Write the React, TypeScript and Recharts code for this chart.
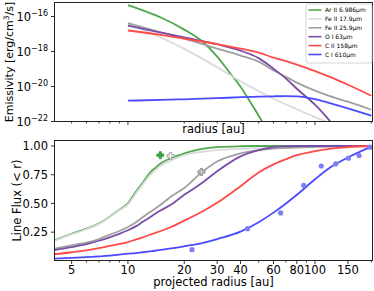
import React from 'react'
import { ComposedChart, Line, Scatter, XAxis, YAxis } from 'recharts'

const FONT = "'DejaVu Sans', sans-serif"

// emissivity panel, values are log10(erg/cm^3/s)
const arIIRadius = [10, 12, 15, 20, 25, 30, 35, 40, 45, 50, 55]
const arIIEmis = [-15.35, -15.65, -16.06, -16.75, -17.43, -18.29, -19.21, -20.01, -20.87, -21.67, -22.4]
const feII17Radius = [10, 15, 20, 30, 40, 60, 80, 100, 120, 150]
const feII17Emis = [-16.42, -17.2, -17.85, -18.9, -19.7, -20.7, -21.3, -21.75, -22.1, -22.6]
const emisRadius = [10, 15, 20, 30, 40, 50, 60, 70, 80, 100, 120, 150, 200]
const feII25Emis = [-16.38, -16.9, -17.26, -17.83, -18.23, -18.58, -19.09, -19.45, -19.78, -20.24, -20.55, -20.87, -21.33]
const oIEmis = [-16.52, -16.92, -17.2, -17.58, -17.95, -18.38, -18.98, -19.55, -20.13, -21.04, -21.96, -23.2, -25.0]
const cIIEmis = [-16.8, -17.05, -17.27, -17.58, -17.83, -18.06, -18.35, -18.55, -18.75, -19.12, -19.45, -19.9, -20.53]
const cIEmis = [-20.81, -20.77, -20.73, -20.67, -20.61, -20.58, -20.56, -20.55, -20.56, -20.72, -20.95, -21.25, -21.66]

// cumulative line flux panel
const fluxRadius = [4, 5, 6, 7, 8, 9, 10, 11, 12, 13, 14, 15, 17, 20, 25, 30, 40, 50, 60, 70, 80, 100, 120, 150, 200]
const arIIFlux = [0.175, 0.235, 0.28, 0.325, 0.385, 0.445, 0.5, 0.6, 0.68, 0.76, 0.81, 0.85, 0.895, 0.935, 0.975, 0.99, 0.998, 1, 1, 1, 1, 1, 1, 1, 1]
const feII17Flux = [0.17, 0.23, 0.275, 0.32, 0.38, 0.44, 0.49, 0.585, 0.665, 0.74, 0.79, 0.83, 0.875, 0.92, 0.95, 0.965, 0.975, 0.98, 0.983, 0.985, 0.988, 0.992, 0.995, 0.997, 1]
const feII25Flux = [0.105, 0.135, 0.158, 0.19, 0.228, 0.26, 0.295, 0.335, 0.38, 0.42, 0.455, 0.49, 0.56, 0.635, 0.775, 0.865, 0.935, 0.965, 0.978, 0.983, 0.987, 0.992, 0.995, 0.997, 1]
const oIFlux = [0.092, 0.12, 0.145, 0.175, 0.205, 0.235, 0.266, 0.3, 0.34, 0.375, 0.41, 0.44, 0.49, 0.575, 0.68, 0.78, 0.91, 0.965, 0.99, 0.997, 1, 1, 1, 1, 1]
const cIIFlux = [0.057, 0.075, 0.092, 0.11, 0.13, 0.147, 0.164, 0.185, 0.205, 0.225, 0.243, 0.26, 0.295, 0.35, 0.43, 0.505, 0.65, 0.77, 0.84, 0.885, 0.92, 0.955, 0.975, 0.99, 1]
const cIFlux = [0.019, 0.025, 0.032, 0.039, 0.046, 0.054, 0.063, 0.068, 0.075, 0.082, 0.088, 0.095, 0.108, 0.127, 0.155, 0.19, 0.255, 0.336, 0.42, 0.5, 0.575, 0.71, 0.81, 0.9, 0.995]

// observed points
const cIObsRadius = [22, 43.6, 65.5, 87, 108, 129, 151, 172, 197]
const cIObsFlux = [0.097, 0.28, 0.417, 0.658, 0.826, 0.844, 0.894, 0.917, 0.99]
const arIIObs = [{ r: 14.9, f: 0.92 }]
const feII17Obs = [{ r: 16.9, f: 0.914 }]
const feII25Obs = [{ r: 24.7, f: 0.774 }]

const LABELS = ['Ar II 6.986μm', 'Fe II 17.9μm', 'Fe II 25.9μm', 'O I 63μm', 'C II 158μm', 'C I 610μm']
const COLORS = ['#4fa84f', '#dadada', '#a0a0a0', '#7a4ea6', '#ff4a4a', '#4a4aff']

const X_DOMAIN = [4.05, 203]
const emisXTicks = [5, 6, 7, 8, 9, 10, 20, 30, 40, 50, 60, 70, 80, 90, 100, 200]
const fluxXTicks = [5, 6, 7, 8, 9, 10, 20, 30, 40, 50, 60, 70, 80, 90, 100, 150, 200]
const fluxXLabeled = [5, 10, 20, 30, 40, 60, 80, 100, 150]

const rows = (rs: number[], vs: number[], key: string) => rs.map((r, i) => ({ r, [key]: vs[i] }))

const emisSeries = [
  rows(arIIRadius, arIIEmis, 'v'),
  rows(feII17Radius, feII17Emis, 'v'),
  rows(emisRadius, feII25Emis, 'v'),
  rows(emisRadius, oIEmis, 'v'),
  rows(emisRadius, cIIEmis, 'v'),
  rows(emisRadius, cIEmis, 'v'),
]
const fluxSeries = [arIIFlux, feII17Flux, feII25Flux, oIFlux, cIIFlux, cIFlux].map(f => rows(fluxRadius, f, 'f'))

function EmisXTick({ x, y, payload }: any) {
  const major = payload.value === 10 || payload.value === 100
  return <line x1={x} x2={x} y1={y} y2={y + (major ? 3.5 : 2)} stroke="#000" strokeWidth={0.8} />
}

function FluxXTick({ x, y, payload }: any) {
  const major = fluxXLabeled.includes(payload.value)
  return (
    <g>
      <line x1={x} x2={x} y1={y} y2={y + (major ? 3.5 : 2)} stroke="#000" strokeWidth={0.8} />
      {major && <text x={x} y={y + 13} textAnchor="middle" fontSize={11.5} fill="#000" fontFamily={FONT}>{payload.value}</text>}
    </g>
  )
}

function EmisYTick({ x, y, payload }: any) {
  return (
    <text x={x} y={y + 4.5} textAnchor="end" fontSize={11.5} fill="#000" fontFamily={FONT}>
      <tspan>10</tspan>
      <tspan dy={-5.5} fontSize={8}>{'\u2212' + Math.abs(payload.value)}</tspan>
    </text>
  )
}

const plus = (fill: string, stroke: string) => (p: any) => (
  <path
    d={`M${p.cx - 1.2},${p.cy - 3.5}h2.4v2.3h2.3v2.4h-2.3v2.3h-2.4v-2.3h-2.3v-2.4h2.3z`}
    fill={fill} stroke={stroke} strokeWidth={0.8}
  />
)

export default function App() {
  return (
    <div style={{ position: 'absolute', left: 0, top: 0, width: 374, height: 291, background: '#fff', fontFamily: FONT }}>
      <div style={{ position: 'absolute', left: 0, top: 0 }}>
        <ComposedChart width={374} height={140} margin={{ top: 2.5, right: 1.5, bottom: 0, left: 0 }}>
          <XAxis dataKey="r" type="number" scale="log" domain={X_DOMAIN} allowDataOverflow ticks={emisXTicks} interval={0}
            tick={(p: any) => <EmisXTick {...p} />} tickLine={false} tickSize={0} tickMargin={0} axisLine={false} height={18.5} />
          <YAxis type="number" domain={[-22, -15.2]} allowDataOverflow ticks={[-22, -20, -18, -16]} interval={0}
            tick={(p: any) => <EmisYTick {...p} />} tickSize={3.5} tickMargin={3} axisLine={false} width={54.5}
            tickLine={{ stroke: '#000', strokeWidth: 0.8 }} />
          {emisSeries.map((d, i) => (
            <Line key={i} data={d} dataKey="v" type="monotone" stroke={COLORS[i]} strokeWidth={1.8} dot={false} isAnimationActive={false} />
          ))}
        </ComposedChart>
      </div>
      <div style={{ position: 'absolute', left: 0, top: 135 }}>
        <ComposedChart width={374} height={156} margin={{ top: 5.5, right: 1.5, bottom: 0, left: 0 }}>
          <XAxis dataKey="r" type="number" scale="log" domain={X_DOMAIN} allowDataOverflow ticks={fluxXTicks} interval={0}
            tick={(p: any) => <FluxXTick {...p} />} tickLine={false} tickSize={0} tickMargin={0} axisLine={false} height={30.5} />
          <YAxis type="number" domain={[0.003, 1.048]} allowDataOverflow ticks={[0.25, 0.5, 0.75, 1]} interval={0}
            tickFormatter={(v: number) => v.toFixed(2)} tick={{ fontSize: 11.5, fill: '#000', fontFamily: FONT }}
            tickSize={3.5} tickMargin={3} axisLine={false} width={54.5} tickLine={{ stroke: '#000', strokeWidth: 0.8 }} />
          {fluxSeries.map((d, i) => (
            <Line key={i} data={d} dataKey="f" type="monotone" stroke={COLORS[i]} strokeWidth={1.8} dot={false} isAnimationActive={false} />
          ))}
          <Scatter data={cIObsRadius.map((r, i) => ({ r, f: cIObsFlux[i] }))} dataKey="f" isAnimationActive={false}
            shape={(p: any) => <circle cx={p.cx} cy={p.cy} r={2.6} fill="#7f7ff5" />} />
          <Scatter data={arIIObs} dataKey="f" isAnimationActive={false} shape={plus('#3f9f3f', '#3f9f3f')} />
          <Scatter data={feII17Obs} dataKey="f" isAnimationActive={false} shape={plus('#f2f2f2', '#909090')} />
          <Scatter data={feII25Obs} dataKey="f" isAnimationActive={false} shape={plus('#c8c8c8', '#808080')} />
        </ComposedChart>
      </div>
      <svg width={374} height={291} style={{ position: 'absolute', left: 0, top: 0, pointerEvents: 'none' }} fontFamily={FONT}>
        <rect x={54.5} y={2.5} width={318} height={119} fill="none" stroke="#222" strokeWidth={1} />
        <rect x={54.5} y={140.5} width={318} height={120} fill="none" stroke="#222" strokeWidth={1} />
        <text x={213.5} y={133} textAnchor="middle" fontSize={11.5}>radius [au]</text>
        <text x={213.5} y={286} textAnchor="middle" fontSize={11.5}>projected radius [au]</text>
        <text transform="translate(12.5,62) rotate(-90)" textAnchor="middle" fontSize={11}>
          Emissivity [erg/cm<tspan dy={-4} fontSize={7.5}>3</tspan><tspan dy={4}>/s]</tspan>
        </text>
        <text transform="translate(20.5,200.5) rotate(-90)" textAnchor="middle" fontSize={11.5}>Line Flux (&lt; r)</text>
        <rect x={306} y={4} width={66} height={59} rx={2} fill="#fff" fillOpacity={0.85} stroke="#ccc" strokeWidth={0.8} />
        {LABELS.map((l, i) => (
          <g key={l}>
            <line x1={308.5} x2={321.5} y1={10 + i * 8.9} y2={10 + i * 8.9} stroke={COLORS[i]} strokeWidth={1.6} />
            <text x={325} y={12.2 + i * 8.9} fontSize={6}>{l}</text>
          </g>
        ))}
      </svg>
    </div>
  )
}
